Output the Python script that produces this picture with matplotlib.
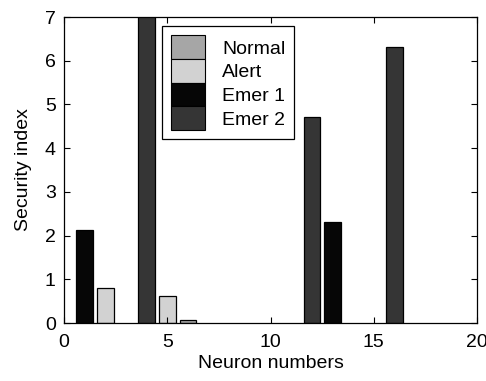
import matplotlib
matplotlib.use("Agg")
import matplotlib.pyplot as plt
from matplotlib.patches import Patch

plt.rcParams['font.family'] = ['Liberation Sans', 'DejaVu Sans']

neurons = [1, 2, 4, 5, 6, 12, 13, 16]
values = [2.13, 0.81, 7.2, 0.62, 0.07, 4.71, 2.30, 6.32]
classes = ['Emer 1', 'Alert', 'Emer 2', 'Alert', 'Normal', 'Emer 2', 'Emer 1', 'Emer 2']
class_names = ['Normal', 'Alert', 'Emer 1', 'Emer 2']
class_colors = {'Normal': '#a6a6a6', 'Alert': '#d2d2d2', 'Emer 1': '#060606', 'Emer 2': '#353535'}
x_ticks = [0, 5, 10, 15, 20]
y_ticks = [0, 1, 2, 3, 4, 5, 6, 7]

fs = 14.0
fig = plt.figure(figsize=(4.86, 3.81), dpi=100)
ax = fig.add_axes([64/486, 58/381, 413/486, 306/381])

ax.bar(neurons, values, width=0.8, color=[class_colors[c] for c in classes],
       edgecolor='black', linewidth=0.9)

ax.set_xlim(0, 20)
ax.set_ylim(0, 7)
ax.set_xticks(x_ticks)
ax.set_yticks(y_ticks)
ax.tick_params(direction='in', top=True, right=True, labelsize=fs, length=4, width=0.8)
ax.tick_params(axis='x', pad=8)
ax.tick_params(axis='y', pad=6)
for s in ax.spines.values():
    s.set_linewidth(0.9)
ax.set_xlabel('Neuron numbers', fontsize=fs, labelpad=3)
ax.set_ylabel('Security index', fontsize=fs, labelpad=9)

handles = [Patch(facecolor=class_colors[c], edgecolor='black', linewidth=0.8) for c in class_names]
leg = ax.legend(handles, class_names, loc='upper left', bbox_to_anchor=(0.237, 0.969),
                borderaxespad=0, fontsize=fs, frameon=True, fancybox=False,
                edgecolor='black', framealpha=1, labelspacing=0.0, handleheight=1.5,
                handlelength=1.75, handletextpad=0.9, borderpad=0.45)
leg.get_frame().set_linewidth(0.9)

fig.savefig('out.png', dpi=100)
